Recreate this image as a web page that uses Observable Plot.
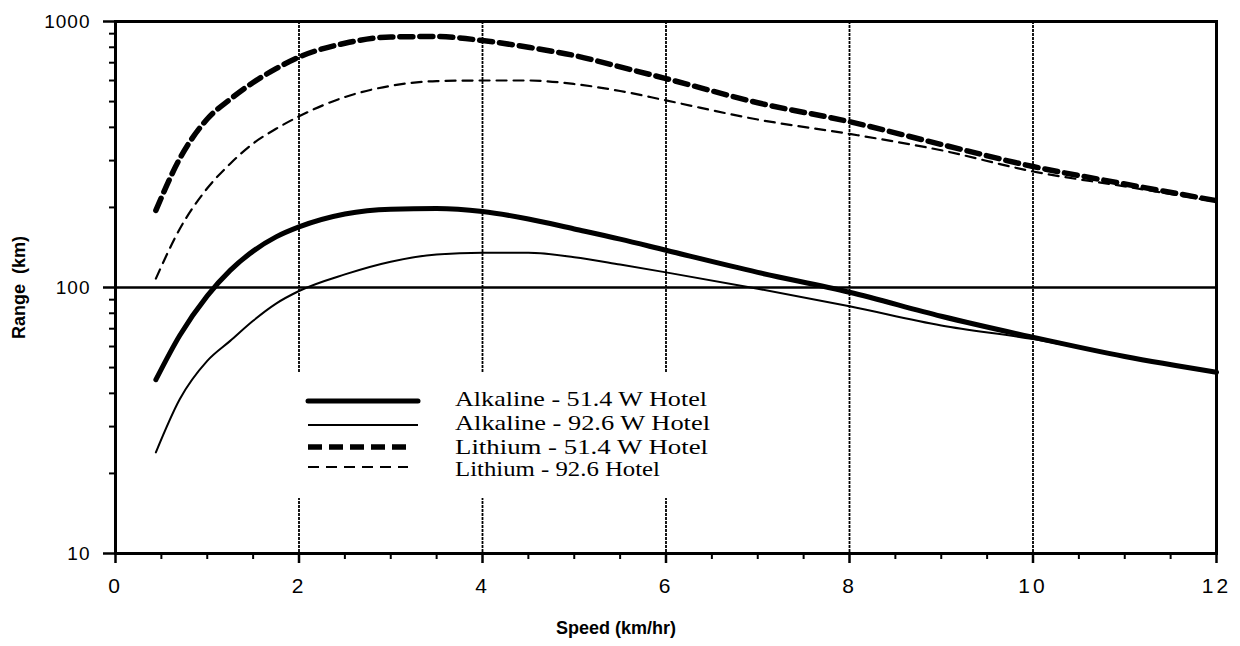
<!DOCTYPE html>
<html><head><meta charset="utf-8">
<script src="https://cdn.jsdelivr.net/npm/d3@7"></script>
<script src="https://cdn.jsdelivr.net/npm/@observablehq/plot@0.6"></script>
<style>
body{margin:0;background:#fff;}
#wrap{position:relative;width:1240px;height:646px;}
#legend{position:absolute;left:295px;top:373px;width:430px;height:125px;background:#fff;}
g[aria-label="x-axis tick label"] text{letter-spacing:3px}
g[aria-label="y-axis tick label"] text{letter-spacing:1px}
g[aria-label="xlabel"] text{letter-spacing:3.5px}
g[aria-label="ylabel"] text{letter-spacing:3.5px;white-space:pre}
</style></head><body><div id="wrap"><div id="legend"></div></div>
<script>
// Speed (km/hr)
const speed = [0.44, 0.7, 1, 1.25, 1.5, 1.75, 2, 2.5, 3, 3.5, 4, 4.5, 5, 5.5, 6, 7, 8, 9, 10, 11, 12];
// Range (km)
const alk51 = [45, 66, 93, 116, 137, 155, 169, 189, 197, 198, 193, 181, 166, 152, 138, 114, 96, 78, 65, 55, 48];
const alk92 = [24, 38, 53, 63, 75, 87, 97, 112, 125, 133, 135, 135, 130, 122, 114, 99, 85, 72, 64, 55, 48];
const li51  = [195, 305, 430, 510, 590, 665, 735, 828, 875, 878, 848, 800, 745, 675, 610, 495, 420, 345, 285, 245, 212];
const li92  = [108, 166, 236, 292, 348, 395, 440, 520, 573, 597, 600, 600, 582, 548, 505, 428, 378, 328, 273, 240, 210];

const seriesNames = ["Alkaline - 51.4 W Hotel", "Alkaline - 92.6 W Hotel", "Lithium - 51.4 W Hotel", "Lithium - 92.6 Hotel"];
const seriesValues = [alk51, alk92, li51, li92];

const xTicks = [0, 2, 4, 6, 8, 10, 12];
const xMinorTicks = [0.5, 1, 1.5, 2.5, 3, 3.5, 4.5, 5, 5.5, 6.5, 7, 7.5, 8.5, 9, 9.5, 10.5, 11, 11.5];
const xGrid = [2, 4, 6, 8, 10];
const yTicks = [10, 100, 1000];
const yMinorTicks = [20, 30, 40, 50, 60, 70, 80, 90, 200, 300, 400, 500, 600, 700, 800, 900];
const xLabel = "Speed (km/hr)";
const yLabel = "Range  (km)";

const styles = [
  {strokeWidth: 5, dash: null},
  {strokeWidth: 2, dash: null},
  {strokeWidth: 5.5, dash: "13,7"},
  {strokeWidth: 2.2, dash: "10,7"}
];

const rows = [];
seriesNames.forEach((name, i) => {
  speed.forEach((s, j) => rows.push({series: name, speed: s, range: seriesValues[i][j]}));
});

const lineMarks = seriesNames.map((name, i) => Plot.line(rows.filter(d => d.series === name), {
  x: "speed", y: "range", stroke: "#000",
  strokeWidth: styles[i].strokeWidth,
  strokeDasharray: styles[i].dash || undefined,
  curve: "monotone-x"
}));

const chart = Plot.plot({
  width: 1240, height: 646,
  marginLeft: 115, marginRight: 24, marginTop: 21, marginBottom: 93,
  style: {fontFamily: "'Liberation Sans', Arial, sans-serif", background: "#fff", color: "#000"},
  x: {domain: [0, 12], axis: null},
  y: {type: "log", domain: [10, 1000], axis: null},
  marks: [
    Plot.ruleX(xGrid, {stroke: "#000", strokeWidth: 1.8, strokeDasharray: "3,1"}),
    Plot.ruleY([100], {stroke: "#000", strokeWidth: 2.5}),
    ...lineMarks,
    Plot.axisY({ticks: yTicks, tickSize: 12, tickPadding: 13, fontSize: 19, stroke: "#000", strokeWidth: 2.5, tickFormat: d => String(d), label: null}),
    Plot.axisY({ticks: yMinorTicks, tickSize: 6, stroke: "#000", strokeWidth: 2, tickFormat: () => "", label: null}),
    Plot.axisX({ticks: xTicks, tickSize: 10, tickPadding: 15, fontSize: 21, stroke: "#000", strokeWidth: 2.5, tickFormat: d => String(d), label: null}),
    Plot.axisX({ticks: xMinorTicks, tickSize: 6, stroke: "#000", strokeWidth: 2, tickFormat: () => "", label: null}),
    Plot.frame({stroke: "#000", strokeWidth: 3}),
    Plot.text([xLabel], {frameAnchor: "bottom", dx: -50, dy: 75, textAnchor: "middle", lineAnchor: "middle", fontSize: 18, fontWeight: "bold", ariaLabel: "xlabel"}),
    Plot.text([yLabel], {frameAnchor: "left", dx: -96, rotate: -90, textAnchor: "middle", lineAnchor: "middle", fontSize: 18, fontWeight: "bold", ariaLabel: "ylabel"})
  ]
});
document.getElementById("wrap").prepend(chart);

// Legend (overlay box)
const lg = d3.select("#legend").append("svg").attr("width", 430).attr("height", 125);
const sampleY = [28, 52, 74, 94];
const sampleX2 = [123, 123, 113, 113];
const textY = [33, 57, 81, 103];
const textLen = [252, 255, 253, 205];
seriesNames.forEach((name, i) => {
  const l = lg.append("line").attr("x1", 13).attr("x2", sampleX2[i])
    .attr("y1", sampleY[i]).attr("y2", sampleY[i])
    .attr("stroke", "#000").attr("stroke-width", styles[i].strokeWidth);
  if (styles[i].dash) l.attr("stroke-dasharray", i === 2 ? "14,7" : "11,7");
  if (i === 0) l.attr("stroke-linecap", "round");
  lg.append("text").attr("x", 160).attr("y", textY[i])
    .attr("font-family", "'Liberation Serif', 'Times New Roman', serif")
    .attr("font-size", 21)
    .attr("textLength", textLen[i]).attr("lengthAdjust", "spacingAndGlyphs")
    .text(name);
});
</script></body></html>
